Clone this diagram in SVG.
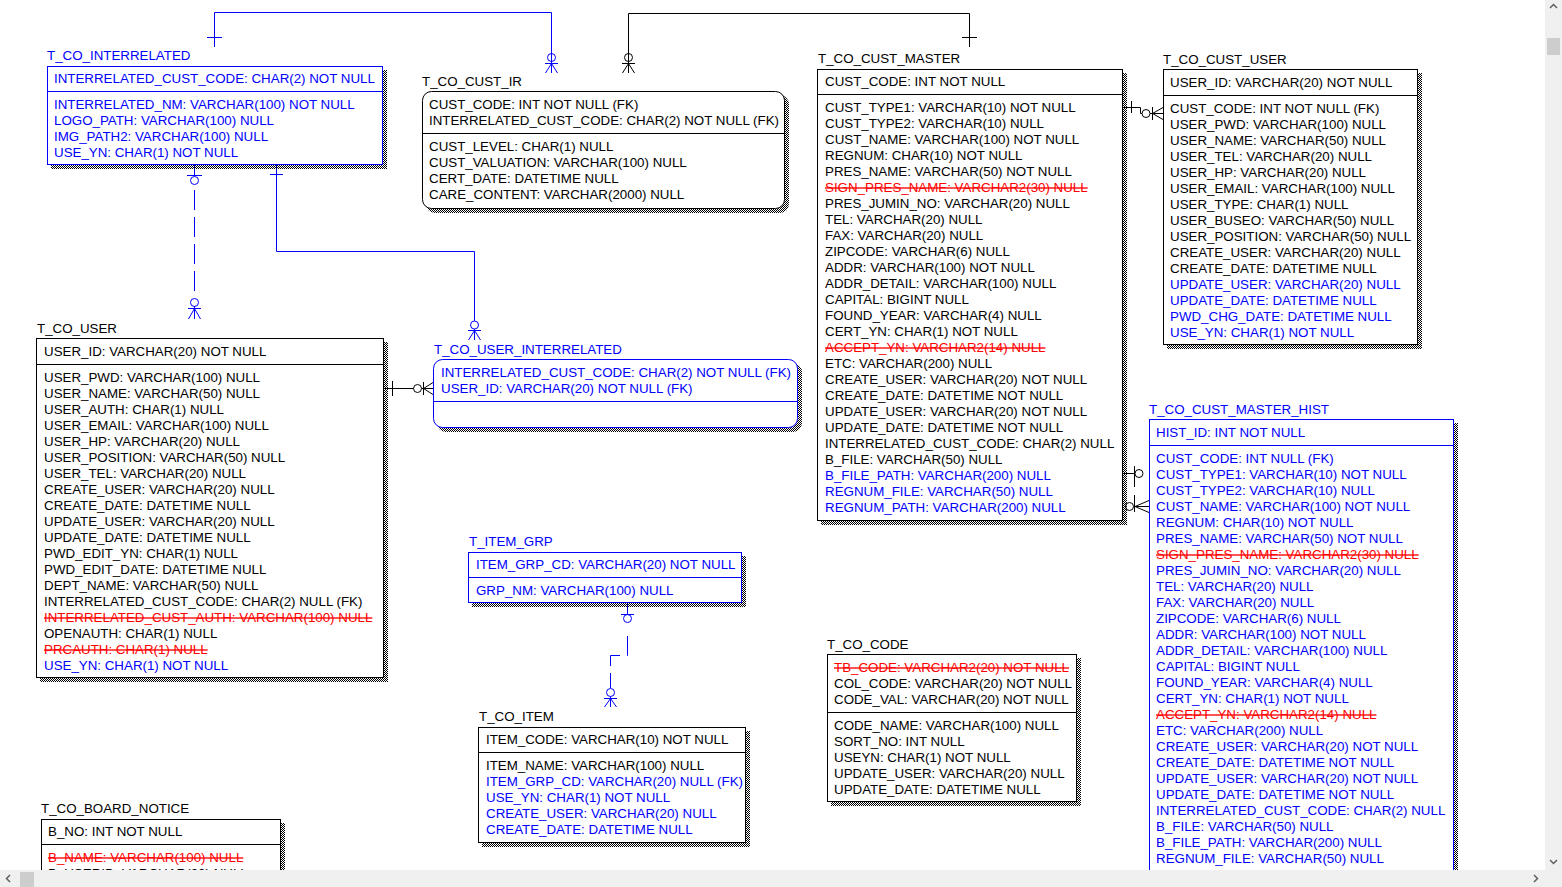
<svg xmlns="http://www.w3.org/2000/svg" width="1562" height="887" viewBox="0 0 1562 887">
<defs>
  <pattern id="dots" width="2" height="2" patternUnits="userSpaceOnUse">
    <rect x="0" y="0" width="1" height="1" fill="#000"/>
    <rect x="1" y="1" width="1" height="1" fill="#000"/>
  </pattern>
</defs>
<style>
  text { font-family: "Liberation Sans", Arial, sans-serif; font-size: 13.33px; }
  .k { fill: #000; }
  .b { fill: #0000ff; }
  .r { fill: #ff0000; text-decoration: line-through; }
  .box { fill: #fff; stroke: #000; stroke-width: 1; }
  .boxb { fill: #fff; stroke: #0000ff; stroke-width: 1; }
  .sep { stroke: #000; stroke-width: 1; }
  .sepb { stroke: #0000ff; stroke-width: 1; }
  .sh { fill: url(#dots); }
  .cb { stroke: #0000ff; fill: none; stroke-width: 1; }
  .ck { stroke: #000; fill: none; stroke-width: 1; }
  .dash { stroke-dasharray: 20 7; }
</style>
<rect x="0" y="0" width="1562" height="887" fill="#fff"/>

<!-- relationship lines -->
<g id="connectors">
  <!-- T_CO_INTERRELATED -> T_CO_CUST_IR -->
  <path class="cb" d="M214.5,47 V12.5 H551.5 V73"/>
  <path class="cb" d="M207,37.5 H222"/>
  <circle class="cb" cx="551.5" cy="57.5" r="4"/>
  <path class="cb" d="M545,63.5 H558 M551.5,63.5 L545.5,73 M551.5,63.5 L557.5,73"/>
  <!-- T_CO_CUST_MASTER -> T_CO_CUST_IR -->
  <path class="ck" d="M628.5,73 V13.5 H969.5 V47"/>
  <path class="ck" d="M962,37.5 H977"/>
  <circle class="ck" cx="628.5" cy="57.5" r="4"/>
  <path class="ck" d="M622,63.5 H635 M628.5,63.5 L622.5,73 M628.5,63.5 L634.5,73"/>
  <!-- T_CO_INTERRELATED -> T_CO_USER (non-identifying) -->
  <path class="cb" d="M194.5,165 V176.5"/>
  <path class="cb" d="M187,175.5 H202"/>
  <circle class="cb" cx="194.5" cy="180.5" r="4"/>
  <path class="cb dash" d="M194.5,190 V297"/>
  <circle class="cb" cx="194.5" cy="302.5" r="4"/>
  <path class="cb" d="M188,308.5 H201 M194.5,306 V319 M194.5,308.5 L188.5,319 M194.5,308.5 L200.5,319"/>
  <!-- T_CO_INTERRELATED -> T_CO_USER_INTERRELATED -->
  <path class="cb" d="M276.5,165 V251.5 H474.5 V321"/>
  <path class="cb" d="M270,174.5 H283"/>
  <circle class="cb" cx="474.5" cy="325" r="4"/>
  <path class="cb" d="M468,330.5 H481 M474.5,329 V340 M474.5,330.5 L468.5,340 M474.5,330.5 L480.5,340"/>
  <!-- T_CO_USER -> T_CO_USER_INTERRELATED -->
  <path class="ck" d="M383,388.5 H413.5"/>
  <path class="ck" d="M392.5,381 V396"/>
  <circle class="ck" cx="417.5" cy="388.5" r="4"/>
  <path class="ck" d="M421.5,388.5 H433 M423.5,382 V395 M423.5,388.5 L433,382.5 M423.5,388.5 L433,394.5"/>
  <!-- T_CO_CUST_MASTER -> T_CO_CUST_USER -->
  <path class="ck" d="M1122,107.5 H1140.5 V113.5 H1142"/>
  <path class="ck" d="M1131.5,101 V113"/>
  <circle class="ck" cx="1146" cy="113.5" r="4"/>
  <path class="ck" d="M1150,113.5 H1163 M1152.5,107 V120 M1152.5,113.5 L1163,107.5 M1152.5,113.5 L1163,119.5"/>
  <!-- T_CO_CUST_MASTER -> T_CO_CUST_MASTER_HIST -->
  <path class="ck" d="M1122,473.5 H1134.5"/>
  <path class="ck" d="M1134.5,466 V487"/>
  <circle class="ck" cx="1139" cy="473.5" r="4"/>
  <path class="ck" d="M1134.5,495 V512"/>
  <circle class="ck" cx="1129.5" cy="506.5" r="4"/>
  <path class="ck" d="M1133.5,506.5 H1149 M1135,506.5 L1149,500.5 M1135,506.5 L1149,512.5"/>
  <!-- T_ITEM_GRP -> T_CO_ITEM (non-identifying) -->
  <path class="cb" d="M627.5,603 V614.5"/>
  <path class="cb" d="M621,614.5 H634"/>
  <circle class="cb" cx="627.5" cy="618.5" r="4"/>
  <path class="cb dash" d="M627.5,636 V655.5 H610.5 V688"/>
  <circle class="cb" cx="610.5" cy="692.5" r="4"/>
  <path class="cb" d="M604,698.5 H617 M610.5,696.5 V707 M610.5,698.5 L604.5,707 M610.5,698.5 L616.5,707"/>
</g>

<!-- T_CO_INTERRELATED -->
<g id="T_CO_INTERRELATED">
  <rect class="sh" x="51" y="70" width="336" height="99"/>
  <rect class="boxb" x="47.5" y="66.5" width="335" height="98"/>
  <line class="sepb" x1="47.5" y1="91.5" x2="382.5" y2="91.5"/>
  <text class="b" x="47" y="60">T_CO_INTERRELATED</text>
  <text class="b" x="54" y="83">INTERRELATED_CUST_CODE: CHAR(2) NOT NULL</text>
  <text class="b" x="54" y="109">INTERRELATED_NM: VARCHAR(100) NOT NULL</text>
  <text class="b" x="54" y="125">LOGO_PATH: VARCHAR(100) NULL</text>
  <text class="b" x="54" y="141">IMG_PATH2: VARCHAR(100) NULL</text>
  <text class="b" x="54" y="157">USE_YN: CHAR(1) NOT NULL</text>
</g>

<!-- T_CO_CUST_IR -->
<g id="T_CO_CUST_IR">
  <rect class="sh" x="426" y="95" width="363" height="118" rx="9"/>
  <rect class="box" x="422.5" y="91.5" width="362" height="117" rx="9"/>
  <line class="sep" x1="422.5" y1="133.5" x2="784.5" y2="133.5"/>
  <text class="k" x="422" y="86">T_CO_CUST_IR</text>
  <text class="k" x="429" y="109">CUST_CODE: INT NOT NULL (FK)</text>
  <text class="k" x="429" y="125">INTERRELATED_CUST_CODE: CHAR(2) NOT NULL (FK)</text>
  <text class="k" x="429" y="151">CUST_LEVEL: CHAR(1) NULL</text>
  <text class="k" x="429" y="167">CUST_VALUATION: VARCHAR(100) NULL</text>
  <text class="k" x="429" y="183">CERT_DATE: DATETIME NULL</text>
  <text class="k" x="429" y="199">CARE_CONTENT: VARCHAR(2000) NULL</text>
</g>

<!-- T_CO_CUST_MASTER -->
<g id="T_CO_CUST_MASTER">
  <rect class="sh" x="821" y="73" width="306" height="452"/>
  <rect class="box" x="817.5" y="69.5" width="305" height="451"/>
  <line class="sep" x1="817.5" y1="94.5" x2="1122.5" y2="94.5"/>
  <text class="k" x="818" y="63">T_CO_CUST_MASTER</text>
  <text class="k" x="825" y="86">CUST_CODE: INT NOT NULL</text>
  <text class="k" x="825" y="112">CUST_TYPE1: VARCHAR(10) NOT NULL</text>
  <text class="k" x="825" y="128">CUST_TYPE2: VARCHAR(10) NULL</text>
  <text class="k" x="825" y="144">CUST_NAME: VARCHAR(100) NOT NULL</text>
  <text class="k" x="825" y="160">REGNUM: CHAR(10) NOT NULL</text>
  <text class="k" x="825" y="176">PRES_NAME: VARCHAR(50) NOT NULL</text>
  <text class="r" x="825" y="192">SIGN_PRES_NAME: VARCHAR2(30) NULL</text>
  <text class="k" x="825" y="208">PRES_JUMIN_NO: VARCHAR(20) NULL</text>
  <text class="k" x="825" y="224">TEL: VARCHAR(20) NULL</text>
  <text class="k" x="825" y="240">FAX: VARCHAR(20) NULL</text>
  <text class="k" x="825" y="256">ZIPCODE: VARCHAR(6) NULL</text>
  <text class="k" x="825" y="272">ADDR: VARCHAR(100) NOT NULL</text>
  <text class="k" x="825" y="288">ADDR_DETAIL: VARCHAR(100) NULL</text>
  <text class="k" x="825" y="304">CAPITAL: BIGINT NULL</text>
  <text class="k" x="825" y="320">FOUND_YEAR: VARCHAR(4) NULL</text>
  <text class="k" x="825" y="336">CERT_YN: CHAR(1) NOT NULL</text>
  <text class="r" x="825" y="352">ACCEPT_YN: VARCHAR2(14) NULL</text>
  <text class="k" x="825" y="368">ETC: VARCHAR(200) NULL</text>
  <text class="k" x="825" y="384">CREATE_USER: VARCHAR(20) NOT NULL</text>
  <text class="k" x="825" y="400">CREATE_DATE: DATETIME NOT NULL</text>
  <text class="k" x="825" y="416">UPDATE_USER: VARCHAR(20) NOT NULL</text>
  <text class="k" x="825" y="432">UPDATE_DATE: DATETIME NOT NULL</text>
  <text class="k" x="825" y="448">INTERRELATED_CUST_CODE: CHAR(2) NULL</text>
  <text class="k" x="825" y="464">B_FILE: VARCHAR(50) NULL</text>
  <text class="b" x="825" y="480">B_FILE_PATH: VARCHAR(200) NULL</text>
  <text class="b" x="825" y="496">REGNUM_FILE: VARCHAR(50) NULL</text>
  <text class="b" x="825" y="512">REGNUM_PATH: VARCHAR(200) NULL</text>
</g>

<!-- T_CO_CUST_USER -->
<g id="T_CO_CUST_USER">
  <rect class="sh" x="1167" y="73" width="255" height="276"/>
  <rect class="box" x="1163.5" y="69.5" width="254" height="275"/>
  <line class="sep" x1="1163.5" y1="95.5" x2="1417.5" y2="95.5"/>
  <text class="k" x="1163" y="64">T_CO_CUST_USER</text>
  <text class="k" x="1170" y="87">USER_ID: VARCHAR(20) NOT NULL</text>
  <text class="k" x="1170" y="113">CUST_CODE: INT NOT NULL (FK)</text>
  <text class="k" x="1170" y="129">USER_PWD: VARCHAR(100) NULL</text>
  <text class="k" x="1170" y="145">USER_NAME: VARCHAR(50) NULL</text>
  <text class="k" x="1170" y="161">USER_TEL: VARCHAR(20) NULL</text>
  <text class="k" x="1170" y="177">USER_HP: VARCHAR(20) NULL</text>
  <text class="k" x="1170" y="193">USER_EMAIL: VARCHAR(100) NULL</text>
  <text class="k" x="1170" y="209">USER_TYPE: CHAR(1) NULL</text>
  <text class="k" x="1170" y="225">USER_BUSEO: VARCHAR(50) NULL</text>
  <text class="k" x="1170" y="241">USER_POSITION: VARCHAR(50) NULL</text>
  <text class="k" x="1170" y="257">CREATE_USER: VARCHAR(20) NULL</text>
  <text class="k" x="1170" y="273">CREATE_DATE: DATETIME NULL</text>
  <text class="b" x="1170" y="289">UPDATE_USER: VARCHAR(20) NULL</text>
  <text class="b" x="1170" y="305">UPDATE_DATE: DATETIME NULL</text>
  <text class="b" x="1170" y="321">PWD_CHG_DATE: DATETIME NULL</text>
  <text class="b" x="1170" y="337">USE_YN: CHAR(1) NOT NULL</text>
</g>

<!-- T_CO_CUST_MASTER_HIST -->
<g id="T_CO_CUST_MASTER_HIST">
  <rect class="sh" x="1153" y="423" width="305" height="500"/>
  <rect class="boxb" x="1149.5" y="419.5" width="304" height="500"/>
  <line class="sepb" x1="1149.5" y1="445.5" x2="1453.5" y2="445.5"/>
  <text class="b" x="1149" y="414">T_CO_CUST_MASTER_HIST</text>
  <text class="b" x="1156" y="437">HIST_ID: INT NOT NULL</text>
  <text class="b" x="1156" y="463">CUST_CODE: INT NULL (FK)</text>
  <text class="b" x="1156" y="479">CUST_TYPE1: VARCHAR(10) NOT NULL</text>
  <text class="b" x="1156" y="495">CUST_TYPE2: VARCHAR(10) NULL</text>
  <text class="b" x="1156" y="511">CUST_NAME: VARCHAR(100) NOT NULL</text>
  <text class="b" x="1156" y="527">REGNUM: CHAR(10) NOT NULL</text>
  <text class="b" x="1156" y="543">PRES_NAME: VARCHAR(50) NOT NULL</text>
  <text class="r" x="1156" y="559">SIGN_PRES_NAME: VARCHAR2(30) NULL</text>
  <text class="b" x="1156" y="575">PRES_JUMIN_NO: VARCHAR(20) NULL</text>
  <text class="b" x="1156" y="591">TEL: VARCHAR(20) NULL</text>
  <text class="b" x="1156" y="607">FAX: VARCHAR(20) NULL</text>
  <text class="b" x="1156" y="623">ZIPCODE: VARCHAR(6) NULL</text>
  <text class="b" x="1156" y="639">ADDR: VARCHAR(100) NOT NULL</text>
  <text class="b" x="1156" y="655">ADDR_DETAIL: VARCHAR(100) NULL</text>
  <text class="b" x="1156" y="671">CAPITAL: BIGINT NULL</text>
  <text class="b" x="1156" y="687">FOUND_YEAR: VARCHAR(4) NULL</text>
  <text class="b" x="1156" y="703">CERT_YN: CHAR(1) NOT NULL</text>
  <text class="r" x="1156" y="719">ACCEPT_YN: VARCHAR2(14) NULL</text>
  <text class="b" x="1156" y="735">ETC: VARCHAR(200) NULL</text>
  <text class="b" x="1156" y="751">CREATE_USER: VARCHAR(20) NOT NULL</text>
  <text class="b" x="1156" y="767">CREATE_DATE: DATETIME NOT NULL</text>
  <text class="b" x="1156" y="783">UPDATE_USER: VARCHAR(20) NOT NULL</text>
  <text class="b" x="1156" y="799">UPDATE_DATE: DATETIME NOT NULL</text>
  <text class="b" x="1156" y="815">INTERRELATED_CUST_CODE: CHAR(2) NULL</text>
  <text class="b" x="1156" y="831">B_FILE: VARCHAR(50) NULL</text>
  <text class="b" x="1156" y="847">B_FILE_PATH: VARCHAR(200) NULL</text>
  <text class="b" x="1156" y="863">REGNUM_FILE: VARCHAR(50) NULL</text>
  <text class="b" x="1156" y="879">REGNUM_PATH: VARCHAR(200) NULL</text>
</g>

<!-- T_CO_USER -->
<g id="T_CO_USER">
  <rect class="sh" x="40" y="342" width="348" height="340"/>
  <rect class="box" x="36.5" y="338.5" width="347" height="339"/>
  <line class="sep" x1="36.5" y1="364.5" x2="383.5" y2="364.5"/>
  <text class="k" x="37" y="333">T_CO_USER</text>
  <text class="k" x="44" y="356">USER_ID: VARCHAR(20) NOT NULL</text>
  <text class="k" x="44" y="382">USER_PWD: VARCHAR(100) NULL</text>
  <text class="k" x="44" y="398">USER_NAME: VARCHAR(50) NULL</text>
  <text class="k" x="44" y="414">USER_AUTH: CHAR(1) NULL</text>
  <text class="k" x="44" y="430">USER_EMAIL: VARCHAR(100) NULL</text>
  <text class="k" x="44" y="446">USER_HP: VARCHAR(20) NULL</text>
  <text class="k" x="44" y="462">USER_POSITION: VARCHAR(50) NULL</text>
  <text class="k" x="44" y="478">USER_TEL: VARCHAR(20) NULL</text>
  <text class="k" x="44" y="494">CREATE_USER: VARCHAR(20) NULL</text>
  <text class="k" x="44" y="510">CREATE_DATE: DATETIME NULL</text>
  <text class="k" x="44" y="526">UPDATE_USER: VARCHAR(20) NULL</text>
  <text class="k" x="44" y="542">UPDATE_DATE: DATETIME NULL</text>
  <text class="k" x="44" y="558">PWD_EDIT_YN: CHAR(1) NULL</text>
  <text class="k" x="44" y="574">PWD_EDIT_DATE: DATETIME NULL</text>
  <text class="k" x="44" y="590">DEPT_NAME: VARCHAR(50) NULL</text>
  <text class="k" x="44" y="606">INTERRELATED_CUST_CODE: CHAR(2) NULL (FK)</text>
  <text class="r" x="44" y="622">INTERRELATED_CUST_AUTH: VARCHAR(100) NULL</text>
  <text class="k" x="44" y="638">OPENAUTH: CHAR(1) NULL</text>
  <text class="r" x="44" y="654">PRCAUTH: CHAR(1) NULL</text>
  <text class="b" x="44" y="670">USE_YN: CHAR(1) NOT NULL</text>
</g>

<!-- T_CO_USER_INTERRELATED -->
<g id="T_CO_USER_INTERRELATED">
  <rect class="sh" x="437" y="363" width="365" height="69" rx="9"/>
  <rect class="boxb" x="433.5" y="359.5" width="364" height="68" rx="9"/>
  <line class="sepb" x1="433.5" y1="401.5" x2="797.5" y2="401.5"/>
  <text class="b" x="434" y="354">T_CO_USER_INTERRELATED</text>
  <text class="b" x="441" y="377">INTERRELATED_CUST_CODE: CHAR(2) NOT NULL (FK)</text>
  <text class="b" x="441" y="393">USER_ID: VARCHAR(20) NOT NULL (FK)</text>
</g>

<!-- T_ITEM_GRP -->
<g id="T_ITEM_GRP">
  <rect class="sh" x="472" y="556" width="274" height="51"/>
  <rect class="boxb" x="468.5" y="552.5" width="273" height="50"/>
  <line class="sepb" x1="468.5" y1="577.5" x2="741.5" y2="577.5"/>
  <text class="b" x="469" y="546">T_ITEM_GRP</text>
  <text class="b" x="476" y="569">ITEM_GRP_CD: VARCHAR(20) NOT NULL</text>
  <text class="b" x="476" y="595">GRP_NM: VARCHAR(100) NULL</text>
</g>

<!-- T_CO_ITEM -->
<g id="T_CO_ITEM">
  <rect class="sh" x="482" y="731" width="268" height="116"/>
  <rect class="box" x="478.5" y="727.5" width="267" height="115"/>
  <line class="sep" x1="478.5" y1="752.5" x2="745.5" y2="752.5"/>
  <text class="k" x="479" y="721">T_CO_ITEM</text>
  <text class="k" x="486" y="744">ITEM_CODE: VARCHAR(10) NOT NULL</text>
  <text class="k" x="486" y="770">ITEM_NAME: VARCHAR(100) NULL</text>
  <text class="b" x="486" y="786">ITEM_GRP_CD: VARCHAR(20) NULL (FK)</text>
  <text class="b" x="486" y="802">USE_YN: CHAR(1) NOT NULL</text>
  <text class="b" x="486" y="818">CREATE_USER: VARCHAR(20) NULL</text>
  <text class="b" x="486" y="834">CREATE_DATE: DATETIME NULL</text>
</g>

<!-- T_CO_CODE -->
<g id="T_CO_CODE">
  <rect class="sh" x="831" y="658" width="250" height="148"/>
  <rect class="box" x="827.5" y="654.5" width="249" height="147"/>
  <line class="sep" x1="827.5" y1="712.5" x2="1076.5" y2="712.5"/>
  <text class="k" x="827" y="649">T_CO_CODE</text>
  <text class="r" x="834" y="672">TB_CODE: VARCHAR2(20) NOT NULL</text>
  <text class="k" x="834" y="688">COL_CODE: VARCHAR(20) NOT NULL</text>
  <text class="k" x="834" y="704">CODE_VAL: VARCHAR(20) NOT NULL</text>
  <text class="k" x="834" y="730">CODE_NAME: VARCHAR(100) NULL</text>
  <text class="k" x="834" y="746">SORT_NO: INT NULL</text>
  <text class="k" x="834" y="762">USEYN: CHAR(1) NOT NULL</text>
  <text class="k" x="834" y="778">UPDATE_USER: VARCHAR(20) NULL</text>
  <text class="k" x="834" y="794">UPDATE_DATE: DATETIME NULL</text>
</g>

<!-- T_CO_BOARD_NOTICE -->
<g id="T_CO_BOARD_NOTICE">
  <rect class="sh" x="45" y="823" width="240" height="100"/>
  <rect class="box" x="41.5" y="819.5" width="239" height="100"/>
  <line class="sep" x1="41.5" y1="844.5" x2="280.5" y2="844.5"/>
  <text class="k" x="41" y="813">T_CO_BOARD_NOTICE</text>
  <text class="k" x="48" y="836">B_NO: INT NOT NULL</text>
  <text class="r" x="48" y="862">B_NAME: VARCHAR(100) NULL</text>
  <text class="k" x="48" y="878">B_USERID: VARCHAR(20) NULL</text>
</g>

<!-- window scroll bars -->
<g id="scrollbars">
  <rect x="1545" y="0" width="17" height="887" fill="#f0f0f0"/>
  <rect x="0" y="870" width="1562" height="17" fill="#f0f0f0"/>
  <rect x="1547" y="38" width="13" height="17" fill="#cdcdcd"/>
  <rect x="20" y="872" width="14" height="15" fill="#cdcdcd"/>
  <path d="M1550,8 L1553.5,4.5 L1557,8" fill="none" stroke="#606060" stroke-width="1.5"/>
  <path d="M1550,860 L1553.5,863.5 L1557,860" fill="none" stroke="#606060" stroke-width="1.5"/>
  <path d="M10,875 L6.5,878.5 L10,882" fill="none" stroke="#606060" stroke-width="1.5"/>
  <path d="M1534,875 L1537.5,878.5 L1534,882" fill="none" stroke="#606060" stroke-width="1.5"/>
</g>
</svg>
